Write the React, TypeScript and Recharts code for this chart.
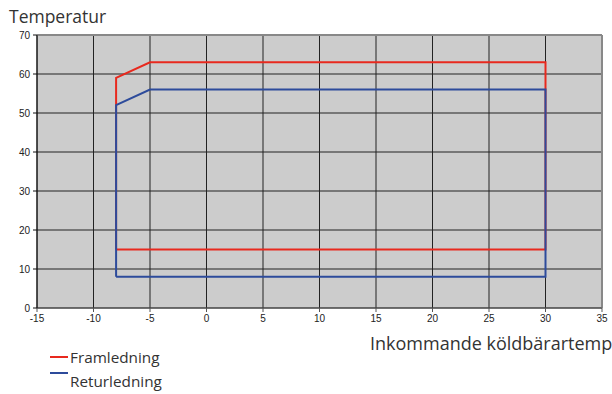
import React from 'react';
import { LineChart, Line, XAxis, YAxis, CartesianGrid, ReferenceLine } from 'recharts';

const xTicks = [-15, -10, -5, 0, 5, 10, 15, 20, 25, 30, 35];
const yTicks = [0, 10, 20, 30, 40, 50, 60, 70];

// Framledning (supply) envelope
const framX = [-8, -8, -5, 30, 30, -8];
const framY = [15, 59, 63, 63, 15, 15];

// Returledning (return) envelope
const returX = [-8, -8, -5, 30, 30, -8];
const returY = [8, 52, 56, 56, 8, 8];

const framData = framX.map((x, i) => ({ x, y: framY[i] }));
const returData = returX.map((x, i) => ({ x, y: returY[i] }));

const RED = '#e8291e';
const BLUE = '#2d4b9b';
const textFont = '"Open Sans", "Noto Sans", sans-serif';
const tickStyle = { fill: '#222', fontSize: 10, fontFamily: '"Liberation Sans", Arial, sans-serif' };

export default function App() {
  return (
    <div style={{ position: 'absolute', left: 0, top: 0, width: 612, height: 394, background: '#fff', overflow: 'hidden' }}>
      <LineChart width={612} height={394} margin={{ top: 35, right: 10, left: 0, bottom: 0 }}>
        <CartesianGrid stroke="#222" fill="#cccccc" horizontalValues={yTicks} verticalValues={xTicks} />
        <XAxis
          type="number"
          dataKey="x"
          domain={[-15, 35]}
          ticks={xTicks}
          height={86}
          tick={tickStyle}
          tickSize={4}
          tickMargin={3}
          stroke="#555"
          allowDuplicatedCategory={false}
        />
        <YAxis
          type="number"
          dataKey="y"
          domain={[0, 70]}
          ticks={yTicks}
          width={37}
          tick={tickStyle}
          tickSize={4}
          tickMargin={3}
          stroke="#111"
        />
        <ReferenceLine y={70} stroke="#888" strokeWidth={2} />
        <ReferenceLine x={35} stroke="#888" strokeWidth={2} />
        <Line data={framData} dataKey="y" stroke={RED} strokeWidth={2} dot={false} isAnimationActive={false} strokeLinejoin="miter" />
        <Line data={returData} dataKey="y" stroke={BLUE} strokeWidth={2} dot={false} isAnimationActive={false} strokeLinejoin="miter" />
      </LineChart>
      <div style={{ position: 'absolute', left: 9, top: 4, fontFamily: textFont, fontSize: 17.5, color: '#333', lineHeight: '24px' }}>Temperatur</div>
      <div style={{ position: 'absolute', left: 370, top: 331, fontFamily: textFont, fontSize: 18, color: '#333', lineHeight: '24px', whiteSpace: 'nowrap' }}>
        Inkommande köldbärartemp
      </div>
      <div style={{ position: 'absolute', left: 50, top: 356, width: 18, height: 2, background: RED }} />
      <div style={{ position: 'absolute', left: 70, top: 346, fontFamily: textFont, fontSize: 15.3, color: '#333', lineHeight: '22px' }}>Framledning</div>
      <div style={{ position: 'absolute', left: 50, top: 372, width: 18, height: 2, background: BLUE }} />
      <div style={{ position: 'absolute', left: 70, top: 370, fontFamily: textFont, fontSize: 15.3, color: '#333', lineHeight: '22px' }}>Returledning</div>
    </div>
  );
}
